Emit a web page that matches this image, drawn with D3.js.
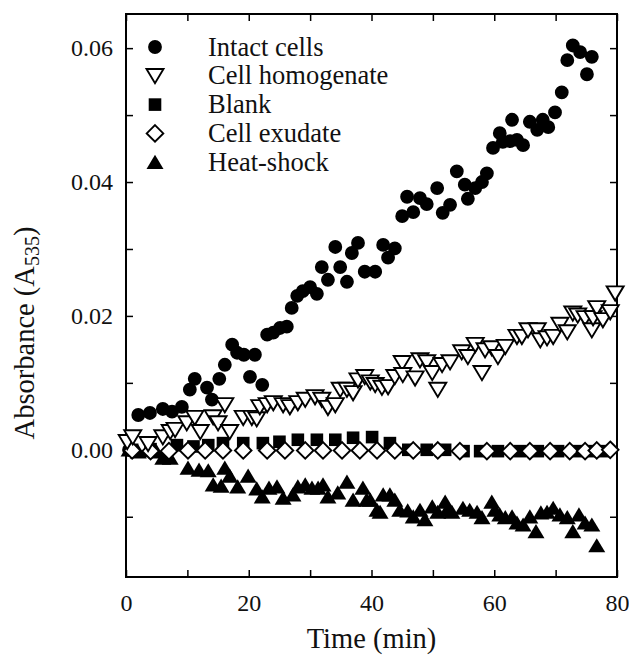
<!DOCTYPE html>
<html>
<head>
<meta charset="utf-8">
<script src="https://cdn.jsdelivr.net/npm/d3@7"></script>
<style>
    body { margin: 0; background: #fff; }
    svg text { font-family: "Liberation Serif", "Times New Roman", serif; fill: #111; }
</style>
</head>
<body>
<svg id="chart" width="629" height="662"></svg>
<script>
// values: [time (min), absorbance]
let intactCells = [
    [0.5, 0.0000], [2.0, 0.0052], [3.9, 0.0055], [6.0, 0.0061], [7.5, 0.0057], [9.1, 0.0064],
    [10.4, 0.0090], [11.2, 0.0106], [13.2, 0.0093], [14.0, 0.0075], [15.2, 0.0106], [16.1, 0.0127],
    [17.3, 0.0157], [18.1, 0.0145], [19.2, 0.0142], [20.2, 0.0109], [21.0, 0.0142], [22.2, 0.0097],
    [23.0, 0.0172], [24.0, 0.0175], [25.1, 0.0182], [26.2, 0.0184], [27.0, 0.0212], [27.9, 0.0230],
    [28.8, 0.0237], [30.0, 0.0243], [31.1, 0.0233], [31.9, 0.0273], [32.9, 0.0254], [34.1, 0.0303],
    [34.9, 0.0273], [36.0, 0.0251], [36.8, 0.0294], [37.8, 0.0309], [38.9, 0.0266], [40.6, 0.0266],
    [41.9, 0.0306], [42.7, 0.0287], [43.8, 0.0301], [45.0, 0.0349], [45.8, 0.0378], [46.8, 0.0355],
    [47.9, 0.0376], [49.0, 0.0367], [50.7, 0.0391], [51.6, 0.0354], [52.8, 0.0366], [53.9, 0.0416],
    [55.2, 0.0396], [55.7, 0.0375], [56.9, 0.0391], [58.0, 0.0400], [58.8, 0.0413], [59.8, 0.0451],
    [60.9, 0.0473], [61.4, 0.0460], [62.6, 0.0461], [62.9, 0.0493], [63.7, 0.0463], [64.7, 0.0455],
    [65.8, 0.0490], [67.0, 0.0478], [67.9, 0.0493], [68.8, 0.0482], [69.9, 0.0504], [71.0, 0.0534],
    [71.9, 0.0582], [72.8, 0.0604], [74.0, 0.0594], [75.1, 0.0561], [75.9, 0.0587]
];

let cellHomogenate = [
    [0.2, 0.0012], [1.1, 0.0019], [3.6, 0.0009], [6.0, 0.0019], [7.2, 0.0027], [8.0, 0.0030],
    [9.9, 0.0040], [11.2, 0.0048], [12.1, 0.0027], [14.2, 0.0049], [15.0, 0.0040], [16.1, 0.0067],
    [16.9, 0.0027], [19.1, 0.0048], [20.5, 0.0048], [21.3, 0.0046], [21.8, 0.0064], [23.0, 0.0067],
    [24.0, 0.0070], [25.6, 0.0067], [26.7, 0.0064], [28.0, 0.0070], [29.2, 0.0075], [30.8, 0.0079],
    [31.9, 0.0075], [32.9, 0.0063], [34.1, 0.0067], [34.9, 0.0090], [36.0, 0.0090], [37.0, 0.0085],
    [37.8, 0.0104], [38.9, 0.0109], [39.8, 0.0101], [40.6, 0.0097], [41.7, 0.0093], [42.7, 0.0094],
    [43.8, 0.0109], [45.0, 0.0130], [45.1, 0.0112], [47.1, 0.0107], [47.9, 0.0134], [49.0, 0.0131],
    [49.9, 0.0115], [50.8, 0.0090], [51.5, 0.0127], [52.8, 0.0131], [54.7, 0.0146], [55.7, 0.0139],
    [56.9, 0.0157], [58.0, 0.0115], [58.5, 0.0149], [59.6, 0.0152], [60.6, 0.0139], [61.8, 0.0154],
    [63.7, 0.0169], [64.5, 0.0169], [65.5, 0.0179], [67.0, 0.0179], [67.5, 0.0164], [68.6, 0.0167],
    [69.6, 0.0169], [70.7, 0.0187], [71.9, 0.0176], [72.8, 0.0204], [73.6, 0.0201], [74.8, 0.0197],
    [75.9, 0.0179], [76.1, 0.0197], [76.7, 0.0212], [77.7, 0.0194], [78.9, 0.0206], [79.7, 0.0234]
];

let blank = [
    [1.0, 0.0000], [4.0, 0.0001], [8.3, 0.0007], [11.0, 0.0005], [13.4, 0.0007], [15.8, 0.0010],
    [19.1, 0.0010], [22.3, 0.0010], [25.0, 0.0012], [28.0, 0.0015], [31.1, 0.0015], [34.1, 0.0015],
    [37.0, 0.0018], [40.1, 0.0019], [43.0, 0.0010], [46.0, 0.0000], [49.0, 0.0000], [52.0, 0.0000],
    [55.0, -0.0002], [57.7, -0.0002], [60.6, -0.0002], [64.2, -0.0002], [67.1, -0.0002],
    [70.4, -0.0002], [73.5, -0.0002], [75.6, -0.0002], [78.0, -0.0002]
];

let cellExudate = [
    [1.0, -0.0001], [4.0, -0.0002], [7.0, -0.0002], [10.1, -0.0001], [12.9, -0.0001], [15.8, -0.0001],
    [19.1, -0.0001], [23.0, -0.0001], [25.9, -0.0001], [29.2, -0.0001], [32.1, -0.0001], [35.2, -0.0001],
    [38.1, -0.0001], [40.9, -0.0001], [43.8, -0.0001], [46.8, -0.0001], [50.8, -0.0001], [54.4, -0.0002],
    [58.8, -0.0002], [62.6, -0.0002], [65.8, -0.0002], [69.1, -0.0002], [72.3, -0.0002], [74.8, -0.0002],
    [76.7, -0.0001], [78.9, 0.0000]
];

let heatShock = [
    [0.5, 0.0000], [2.0, -0.0003], [3.5, -0.0001], [5.0, -0.0003], [6.0, -0.0012], [7.2, -0.0012],
    [10.1, -0.0027], [11.9, -0.0030], [13.4, -0.0031], [14.2, -0.0052], [15.5, -0.0054], [16.1, -0.0027],
    [16.9, -0.0039], [18.2, -0.0055], [19.9, -0.0039], [21.3, -0.0058], [22.2, -0.0070], [23.3, -0.0057],
    [24.6, -0.0055], [25.6, -0.0072], [27.2, -0.0067], [28.0, -0.0055], [29.2, -0.0052], [30.3, -0.0057],
    [31.3, -0.0057], [32.1, -0.0052], [32.9, -0.0070], [34.5, -0.0064], [36.0, -0.0048], [37.0, -0.0075],
    [38.6, -0.0057], [39.2, -0.0075], [39.8, -0.0075], [40.9, -0.0090], [41.4, -0.0093], [41.9, -0.0067],
    [43.0, -0.0067], [43.8, -0.0075], [44.6, -0.0090], [45.9, -0.0091], [46.8, -0.0100], [47.9, -0.0090],
    [48.7, -0.0104], [49.9, -0.0085], [50.8, -0.0093], [52.0, -0.0078], [52.3, -0.0090], [53.1, -0.0093],
    [54.9, -0.0087], [56.0, -0.0090], [57.2, -0.0093], [58.0, -0.0101], [59.6, -0.0078], [60.1, -0.0090],
    [60.9, -0.0097], [61.8, -0.0101], [62.9, -0.0100], [63.7, -0.0109], [64.7, -0.0112], [65.8, -0.0100],
    [66.8, -0.0122], [67.6, -0.0094], [68.6, -0.0093], [69.6, -0.0087], [70.7, -0.0097], [71.9, -0.0101],
    [72.8, -0.0122], [73.8, -0.0097], [74.8, -0.0109], [75.9, -0.0112], [76.7, -0.0143]
];

let legendLabels = ['Intact cells', 'Cell homogenate', 'Blank', 'Cell exudate', 'Heat-shock'];
let legendMarkers = ['circle', 'triangleDown', 'square', 'diamond', 'triangleUp'];
let xTicks = [0, 10, 20, 30, 40, 50, 60, 70, 80];
let xTickLabels = [0, 20, 40, 60, 80];
let yTicks = [-0.01, 0, 0.01, 0.02, 0.03, 0.04, 0.05, 0.06];
let yTickLabels = [0, 0.02, 0.04, 0.06];

let svg = d3.select('#chart');
let plot = {left: 126, right: 617, top: 14, bottom: 577};

let xScale = d3.scaleLinear().domain([0, 80]).range([plot.left, plot.right]);
let yScale = d3.scaleLinear().domain([-0.019, 0.0651]).range([plot.bottom, plot.top]);

// marker outlines, centred on 0,0
function markerPath(type) {
    switch (type) {
        case 'triangleDown': return 'M-8.5,-6.8L8.5,-6.8L0,7.4Z';
        case 'triangleUp': return 'M-8.5,6.8L8.5,6.8L0,-7.4Z';
        case 'square': return 'M-6.3,-6.3H6.3V6.3H-6.3Z';
        case 'diamond': return 'M0,-8.3L8.3,0L0,8.3L-8.3,0Z';
        default: return d3.symbol(d3.symbolCircle, 150)();
    }
}

function markerStyle(type) {
    let open = type === 'triangleDown' || type === 'diamond';
    return {fill: open ? '#fff' : '#000', stroke: open ? '#000' : 'none', width: open ? 1.9 : 0};
}

function drawSeries(data, type) {
    let style = markerStyle(type);
    svg.append('g')
        .selectAll('path')
        .data(data)
        .join('path')
        .attr('d', markerPath(type))
        .attr('transform', d => `translate(${xScale(d[0])},${yScale(d[1])})`)
        .attr('fill', style.fill)
        .attr('stroke', style.stroke)
        .attr('stroke-width', style.width)
        .attr('stroke-linejoin', 'miter');
}

// axes: ticks point into the plot on all four sides
let tickFormatY = d => yTickLabels.some(v => Math.abs(v - d) < 1e-9) ? d3.format('.2f')(d) : '';
let tickFormatX = d => xTickLabels.includes(d) ? d : '';

svg.append('g')
    .attr('transform', `translate(${plot.left},0)`)
    .call(d3.axisLeft(yScale).tickValues(yTicks).tickSize(-7).tickPadding(13).tickFormat(tickFormatY));
svg.append('g')
    .attr('transform', `translate(${plot.right},0)`)
    .call(d3.axisRight(yScale).tickValues(yTicks).tickSize(-7).tickFormat(''));
svg.append('g')
    .attr('transform', `translate(0,${plot.bottom})`)
    .call(d3.axisBottom(xScale).tickValues(xTicks).tickSize(-7).tickPadding(17).tickFormat(tickFormatX));
svg.append('g')
    .attr('transform', `translate(0,${plot.top})`)
    .call(d3.axisTop(xScale).tickValues(xTicks).tickSize(-7).tickFormat(''));

svg.selectAll('.domain').remove();
svg.selectAll('.tick line').attr('stroke', '#000').attr('stroke-width', 1.5);
svg.selectAll('.tick text').attr('font-size', 24).attr('fill', '#111');

svg.append('rect')
    .attr('x', plot.left).attr('y', plot.top)
    .attr('width', plot.right - plot.left).attr('height', plot.bottom - plot.top)
    .attr('fill', 'none').attr('stroke', '#000').attr('stroke-width', 2);

// data markers
drawSeries(intactCells, 'circle');
drawSeries(heatShock, 'triangleUp');
drawSeries(blank, 'square');
drawSeries(cellExudate, 'diamond');
drawSeries(cellHomogenate, 'triangleDown');

// legend
let legend = svg.append('g').attr('transform', 'translate(155,47)');
legendLabels.forEach((label, i) => {
    let type = legendMarkers[i];
    let style = markerStyle(type);
    let row = legend.append('g').attr('transform', `translate(0,${i * 28.8})`);
    row.append('path')
        .attr('d', markerPath(type))
        .attr('fill', style.fill)
        .attr('stroke', style.stroke)
        .attr('stroke-width', style.width);
    row.append('text')
        .attr('x', 53).attr('y', 8.5)
        .attr('font-size', 26.5)
        .text(label);
});

// axis titles
svg.append('text')
    .attr('x', (plot.left + plot.right) / 2).attr('y', 648)
    .attr('text-anchor', 'middle')
    .attr('font-size', 28.5)
    .text('Time (min)');

let yTitle = svg.append('text')
    .attr('transform', 'translate(34,333) rotate(-90)')
    .attr('text-anchor', 'middle')
    .attr('font-size', 28.5);
yTitle.append('tspan').text('Absorbance (A');
yTitle.append('tspan').attr('font-size', 20).attr('dy', 5).text('535');
yTitle.append('tspan').attr('dy', -5).text(')');
</script>
</body>
</html>
